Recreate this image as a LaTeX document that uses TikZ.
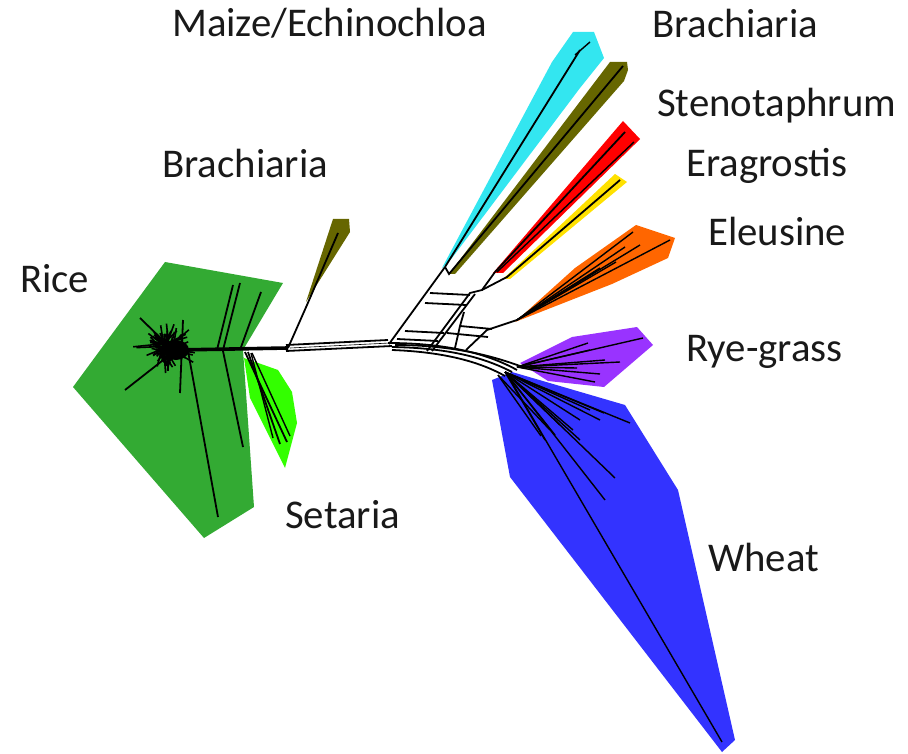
\documentclass[tikz,border=0pt]{standalone}
\usepackage{fontspec}
\setmainfont{Carlito}
\definecolor{ricegreen}{RGB}{51,170,51}
\definecolor{setgreen}{RGB}{51,255,0}
\definecolor{olivec}{RGB}{102,102,0}
\definecolor{cyanc}{RGB}{51,230,240}
\definecolor{redc}{RGB}{255,0,0}
\definecolor{yellowc}{RGB}{255,225,0}
\definecolor{orangec}{RGB}{255,102,0}
\definecolor{purplec}{RGB}{153,51,255}
\definecolor{bluec}{RGB}{51,51,255}
\tikzset{
  lab/.style={font=\fontsize{40.8}{44}\selectfont, anchor=base west, inner sep=0pt, text=black!90},
  br/.style={line width=1.8pt, black},
  fan/.style={line width=1.4pt, black},
  thickbr/.style={line width=3.6pt, black}
}
\begin{document}
\begin{tikzpicture}[x=1pt,y=-1pt]
\useasboundingbox (0,0) rectangle (908,754);
% ---------- hulls ----------
\fill[ricegreen] (165,262) -- (283,283) -- (243,350) -- (254,507) -- (204,538) -- (73,387) -- cycle;
\fill[setgreen] (244,358) -- (278,370) -- (292,392) -- (297,423) -- (285,468) -- (250,398) -- cycle;
\fill[olivec] (306,302) -- (333,219) -- (349,219) -- (350,232) -- cycle;
\fill[cyanc] (442,268) -- (552,62) -- (573,32) -- (594,32) -- (604,58) -- (580,88) -- (452,258) -- cycle;
\fill[olivec] (449,274) -- (610,62) -- (627,62) -- (628,70) -- (624,81) -- (455,274) -- cycle;
\fill[redc] (493,273) -- (623,121) -- (640,139) -- (634,145) -- (503,273) -- cycle;
\fill[yellowc] (503,279) -- (615,174) -- (627,182) -- (510,279) -- cycle;
\fill[orangec] (515,322) -- (575,268) -- (636,225) -- (675,238) -- (668,258) -- (612,284) -- cycle;
\fill[purplec] (520,363) -- (572,337) -- (637,327) -- (653,345) -- (604,387) -- (548,381) -- cycle;
\fill[bluec] (492,380) -- (512,372) -- (625,405) -- (678,490) -- (735,740) -- (722,752) -- (510,477) -- cycle;
% ---------- rice star ----------
\coordinate (rc) at (176,350);
\pgfmathsetseed{11}
\foreach \i in {0,...,110} {
  \pgfmathsetmacro{\ang}{\i*3.25+rand*6}
  \pgfmathsetmacro{\len}{9+rnd*rnd*26}
  \draw[line width=1.6pt] (168,348) ++(rand*6,rand*6) -- ++(\ang:\len);
}
\fill (rc) ellipse (13 and 10);
\draw[br] (rc) -- (125,390);
\draw[br] (140,318) -- (173,350);
\draw[br] (183,320) -- (180,393);
\draw[br] (233,285) -- (217,350);
\draw[br] (240,283) -- (223,350);
\draw[br] (261,292) -- (240,350);
\draw[br] (188,351) -- (218,517);
\draw[br] (223,351) -- (243,447);
% ---------- backbone ----------
\coordinate (j1) at (288,348);
\draw[thickbr] (rc) -- (j1);
\draw[br] (286,345) -- (388,340);
\draw[br] (286,351) -- (392,346);
\draw[line width=0.6pt] (290,348) -- (390,343);
% setaria
\draw[br] (245,352) -- (287,442);
\draw[br] (248,352) -- (280,444);
\draw[fan] (251,353) -- (273,438);
\draw[fan] (252,353) -- (290,436);
% small brachiaria
\draw[br] (j1) -- (307,305) -- (338,233);
% ---------- central network ----------
\draw[br] (388,343) .. controls (450,343) and (490,355) .. (517,370);
\draw[br] (392,347) .. controls (450,348) and (485,358) .. (512,372);
\draw[br] (392,350) .. controls (445,352) and (480,362) .. (505,376);
\draw[br] (395,345) .. controls (455,345) and (495,357) .. (520,366);
% left stem to cyan
\draw[br] (389,344) -- (445,267);
\draw[br] (445,267) -- (580,50);
\draw[fan] (575,55) -- (590,42);
\draw[br] (445,267) -- (449,274) -- (623,66);
% second stem
\draw[br] (427,351) -- (470,293) -- (482,290) -- (495,272);
\draw[br] (432,351) -- (475,294);
\draw[br] (495,272) -- (625,132);
\draw[fan] (497,272) -- (634,142);
\draw[br] (482,290) -- (507,277) -- (620,180);
% bars
\draw[br] (430,293) -- (470,295);
\draw[br] (425,303) -- (466,305);
\draw[br] (405,331) -- (444,333);
\draw[br] (397,339) -- (438,341);
% right third stem
\draw[br] (466,350) -- (487,330) -- (517,320);
\draw[br] (460,326) -- (492,329);
\draw[br] (447,333) -- (488,337);
\draw[br] (464,312) -- (460,326) -- (455,348);
% orange fan
\foreach \p in {(670,240),(633,232),(640,245),(625,247),(616,262),(600,268),(595,272)}
  \draw[fan] (517,320) -- \p;
% purple fan
\foreach \p in {(643,338),(588,343),(590,350),(605,360),(620,362),(600,374),(577,368),(595,382)}
  \draw[fan] (517,367) -- \p;
% blue fan
\draw[fan] (507,374) -- (722,742);
\foreach \p in {(630,423),(604,413),(600,420),(580,420),(615,478),(605,500),(580,440),(573,430),(555,435),(545,440),(560,425),(590,410)}
  \draw[fan] (505,372) -- \p;
\foreach \p in {(541,436),(550,430)}
  \draw[fan] (498,375) -- \p;
% ---------- labels ----------
\node[lab] (lmaize) at (172,37) {Maize/Echinochloa};
\node[lab] (lbrach1) at (652,38) {Brachiaria};
\node[lab] (lsteno) at (657,117) {Stenotaphrum};
\node[lab] (lerag) at (686,177) {Eragrostis};
\node[lab] (lbrach2) at (162,178) {Brachiaria};
\node[lab] (leleu) at (708,246) {Eleusine};
\node[lab] (lrice) at (20,292) {Rice};
\node[lab] (lrye) at (686,361) {Rye-grass};
\node[lab] (lset) at (285,528) {Setaria};
\node[lab] (lwheat) at (708,571) {Wheat};
\end{tikzpicture}
\end{document}
